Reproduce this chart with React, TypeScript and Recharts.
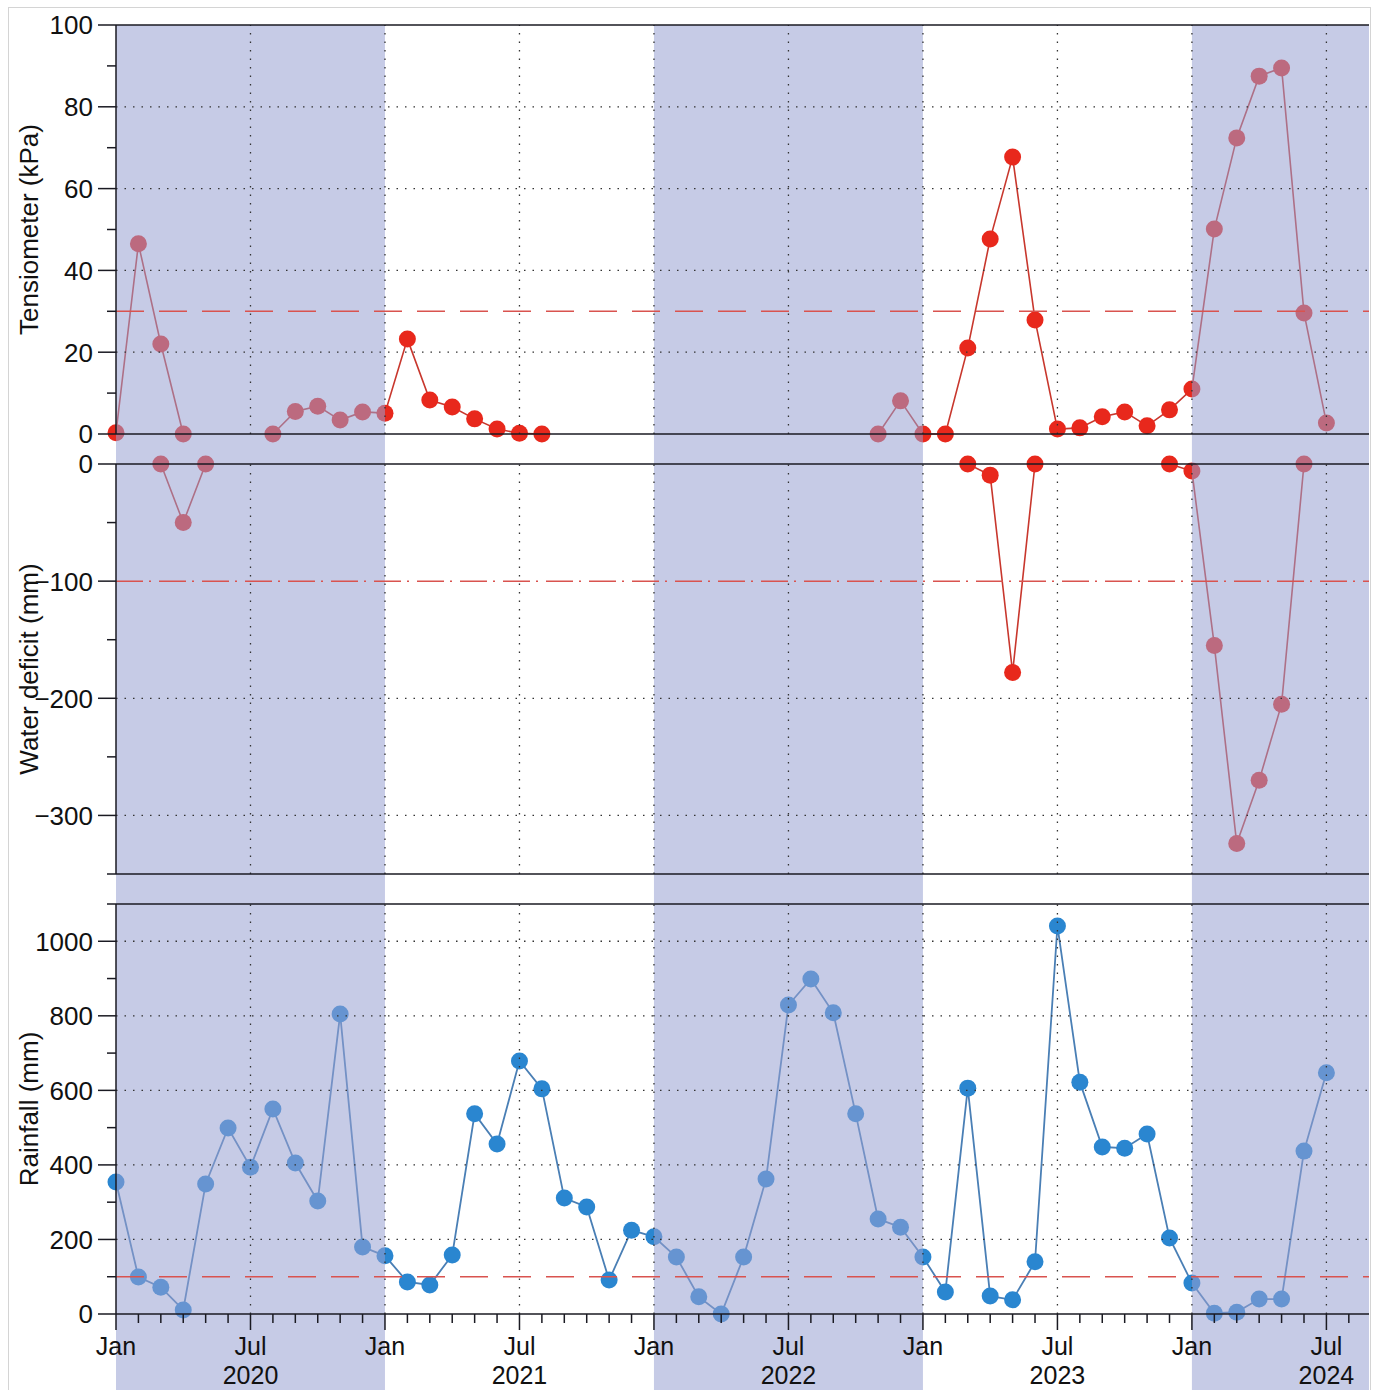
import React from 'react';
import { LineChart, Line, XAxis, YAxis, ReferenceLine, ReferenceArea } from 'recharts';

// month index: 0 = Jan 2020 ... 54 = Jul 2024
const MONTHS = Array.from({ length: 55 }, (_, i) => i);

const TENSIOMETER = [
  0.3, 46.5, 22, 0, null, null, null, 0, 5.5, 6.8, 3.4, 5.4,
  5.1, 23.2, 8.3, 6.6, 3.7, 1.2, 0.2, 0, null, null, null, null,
  null, null, null, null, null, null, null, null, null, null, 0, 8.1,
  0, 0, 21, 47.7, 67.7, 27.9, 1.2, 1.5, 4.2, 5.4, 2, 5.9,
  11, 50.1, 72.4, 87.5, 89.5, 29.6, 2.7,
];

const WATER_DEFICIT = [
  null, null, 0, -50, 0, null, null, null, null, null, null, null,
  null, null, null, null, null, null, null, null, null, null, null, null,
  null, null, null, null, null, null, null, null, null, null, null, null,
  null, null, 0, -9.5, -178, 0, null, null, null, null, null, 0,
  -6, -155, -324, -270, -205, 0, null,
];

const RAINFALL = [
  354, 99, 72, 11, 349, 499, 394, 550, 405, 303, 805, 180,
  156, 86, 78, 158, 537, 456, 679, 604, 311, 287, 91, 225,
  207, 153, 46, 0, 153, 362, 829, 899, 808, 537, 255, 233,
  153, 59, 606, 48, 38, 140, 1041, 622, 448, 445, 483, 204,
  83, 2, 5, 40, 40, 437, 647,
];

const X_END = 55.9;
const X_TICKS = Array.from({ length: 56 }, (_, i) => i);
const X_GRID = [6, 12, 18, 24, 30, 36, 42, 48, 54];
const MONTH_NAMES: Record<number, string> = { 0: 'Jan', 6: 'Jul' };
const SHADED_YEARS = [
  [0, 12],
  [24, 36],
  [48, X_END],
];

const TENSIO_TICKS = [0, 10, 20, 30, 40, 50, 60, 70, 80, 90, 100];
const TENSIO_LABELS = [0, 20, 40, 60, 80, 100];
const TENSIO_GRID = [20, 40, 60, 80];

const DEFICIT_TICKS = [0, -50, -100, -150, -200, -250, -300, -350];
const DEFICIT_LABELS = [0, -100, -200, -300];
const DEFICIT_GRID = [-200, -300];

const RAIN_TICKS = [0, 100, 200, 300, 400, 500, 600, 700, 800, 900, 1000, 1100];
const RAIN_LABELS = [0, 200, 400, 600, 800, 1000];
const RAIN_GRID = [200, 400, 600, 800, 1000];

const FONT = '"Liberation Sans", Arial, sans-serif';
const FONT_SIZE = 26;
const X_FONT_SIZE = 25;
const TEXT = '#111';
const AXIS = '#1a1a22';
const RED = '#e8281c';
const RED_LINE = '#c8372d';
const BLUE = '#2a86d0';
const BLUE_LINE = '#4a7fb5';
const THRESHOLD = '#d9534f';
const SHADE = '#97a0d1';
const GRID = '#333';

// layering: series < shading < grid/thresholds < frame/axes
const Z_SHADE = 700;
const Z_GRID = 720;
const Z_THRESH = 730;
const Z_AXIS = 800;

const TICK_SIZE = 18;
const TICK_MARGIN = 5;
const WIDTH = 1375;

const data = MONTHS.map((m, i) => ({
  m,
  tensio: TENSIOMETER[i],
  deficit: WATER_DEFICIT[i],
  rain: RAINFALL[i],
}));

const fmt = (v: number) => (v < 0 ? `\u2212${Math.abs(v)}` : `${v}`);

function makeYTick(labels: number[]) {
  return function YTick(props: any) {
    const { x, y, payload } = props;
    const v = payload.value as number;
    const major = labels.includes(v);
    const axisX = x + TICK_MARGIN + TICK_SIZE;
    const len = major ? TICK_SIZE : 9;
    return (
      <g>
        <line x1={axisX - len} x2={axisX} y1={y} y2={y} stroke={AXIS} strokeWidth={1.5} />
        {major && (
          <text x={x} y={y} dy="0.36em" textAnchor="end" fontSize={FONT_SIZE} fontFamily={FONT} fill={TEXT}>
            {fmt(v)}
          </text>
        )}
      </g>
    );
  };
}

function XTick(props: any) {
  const { x, y, payload } = props;
  const m = payload.value as number;
  const mon = m % 12;
  const name = MONTH_NAMES[mon];
  const len = name ? 16 : 9;
  return (
    <g>
      <line x1={x} x2={x} y1={y} y2={y + len} stroke={AXIS} strokeWidth={1.5} />
      {name && (
        <text x={x} y={y + 41} textAnchor="middle" fontSize={X_FONT_SIZE} fontFamily={FONT} fill={TEXT}>
          {name}
        </text>
      )}
      {mon === 6 && (
        <text x={x} y={y + 70} textAnchor="middle" fontSize={X_FONT_SIZE} fontFamily={FONT} fill={TEXT}>
          {2020 + Math.floor(m / 12)}
        </text>
      )}
    </g>
  );
}

const titleStyle = (value: string) => ({
  value,
  angle: -90,
  position: 'insideLeft' as const,
  offset: 29,
  style: { textAnchor: 'middle', fontSize: FONT_SIZE, fontFamily: FONT, fill: TEXT },
});

function Grid({ rows }: { rows: number[] }) {
  return (
    <>
      {rows.map((v) => (
        <ReferenceLine key={`h${v}`} y={v} stroke={GRID} strokeWidth={1.3} strokeDasharray="1.5 7" zIndex={Z_GRID} />
      ))}
      {X_GRID.map((v) => (
        <ReferenceLine key={`v${v}`} x={v} stroke={GRID} strokeWidth={1.3} strokeDasharray="1.5 7" zIndex={Z_GRID} />
      ))}
    </>
  );
}

function Shade({ lo, hi }: { lo: number; hi: number }) {
  return (
    <>
      {SHADED_YEARS.map(([a, b]) => (
        <ReferenceArea
          key={a}
          x1={a}
          x2={b}
          y1={lo}
          y2={hi}
          fill={SHADE}
          fillOpacity={0.55}
          stroke="none"
          ifOverflow="visible"
          zIndex={Z_SHADE}
        />
      ))}
    </>
  );
}

const yAxisCommon = {
  type: 'number' as const,
  interval: 0 as const,
  width: 116,
  tickSize: TICK_SIZE,
  tickMargin: TICK_MARGIN,
  tickLine: false,
  axisLine: { stroke: AXIS, strokeWidth: 1.5 },
  zIndex: Z_AXIS,
};

export default function App() {
  return (
    <div style={{ position: 'relative', width: WIDTH, height: 1390, background: '#fff' }}>
      <style>{'body{margin:0;}'}</style>
      <div
        style={{
          position: 'absolute',
          left: 8,
          top: 7,
          width: 1361,
          height: 1400,
          border: '1px solid #d4d4d4',
          pointerEvents: 'none',
        }}
      />

      {/* Tensiometer */}
      <LineChart width={WIDTH} height={449} data={data} margin={{ top: 25, right: 6, bottom: 15, left: 0 }}>
        <Line
          type="linear"
          dataKey="tensio"
          stroke={RED_LINE}
          strokeWidth={1.6}
          dot={{ r: 8.5, fill: RED, stroke: RED, strokeWidth: 0 }}
          activeDot={false}
          isAnimationActive={false}
        />
        {Shade({ lo: -4, hi: 100 })}
        {Grid({ rows: TENSIO_GRID })}
        <ReferenceLine y={30} stroke={THRESHOLD} strokeWidth={1.5} strokeDasharray="28 15" zIndex={Z_THRESH} />
        <ReferenceLine y={100} stroke={AXIS} strokeWidth={1.5} zIndex={Z_AXIS} />
        <ReferenceLine y={0} stroke={AXIS} strokeWidth={1.5} zIndex={Z_AXIS} />
        <XAxis type="number" dataKey="m" domain={[0, X_END]} hide />
        <YAxis
          {...yAxisCommon}
          domain={[0, 100]}
          ticks={TENSIO_TICKS}
          tick={makeYTick(TENSIO_LABELS)}
          label={titleStyle('Tensiometer (kPa)')}
        />
      </LineChart>

      {/* Water deficit */}
      <LineChart width={WIDTH} height={440} data={data} margin={{ top: 15, right: 6, bottom: 15, left: 0 }}>
        <Line
          type="linear"
          dataKey="deficit"
          stroke={RED_LINE}
          strokeWidth={1.6}
          dot={{ r: 8.5, fill: RED, stroke: RED, strokeWidth: 0 }}
          activeDot={false}
          isAnimationActive={false}
        />
        {Shade({ lo: -364, hi: 14 })}
        {Grid({ rows: DEFICIT_GRID })}
        <ReferenceLine y={-100} stroke={THRESHOLD} strokeWidth={1.5} strokeDasharray="27 6 2 8" zIndex={Z_THRESH} />
        <ReferenceLine y={0} stroke={AXIS} strokeWidth={1.5} zIndex={Z_AXIS} />
        <ReferenceLine y={-350} stroke={AXIS} strokeWidth={1.5} zIndex={Z_AXIS} />
        <XAxis type="number" dataKey="m" domain={[0, X_END]} hide />
        <YAxis
          {...yAxisCommon}
          domain={[-350, 0]}
          ticks={DEFICIT_TICKS}
          tick={makeYTick(DEFICIT_LABELS)}
          label={titleStyle('Water deficit (mm)')}
        />
      </LineChart>

      {/* Rainfall */}
      <LineChart width={WIDTH} height={501} data={data} margin={{ top: 15, right: 6, bottom: 0, left: 0 }}>
        <Line
          type="linear"
          dataKey="rain"
          stroke={BLUE_LINE}
          strokeWidth={1.8}
          dot={{ r: 8.5, fill: BLUE, stroke: BLUE, strokeWidth: 0 }}
          activeDot={false}
          isAnimationActive={false}
        />
        {Shade({ lo: -215, hi: 1145 })}
        {Grid({ rows: RAIN_GRID })}
        <ReferenceLine y={100} stroke={THRESHOLD} strokeWidth={1.5} strokeDasharray="28 15" zIndex={Z_THRESH} />
        <ReferenceLine y={1100} stroke={AXIS} strokeWidth={1.5} zIndex={Z_AXIS} />
        <XAxis
          type="number"
          dataKey="m"
          domain={[0, X_END]}
          ticks={X_TICKS}
          interval={0}
          height={76}
          tickSize={0}
          tickMargin={0}
          tickLine={false}
          axisLine={{ stroke: AXIS, strokeWidth: 1.5 }}
          tick={XTick}
          zIndex={Z_AXIS}
        />
        <YAxis
          {...yAxisCommon}
          domain={[0, 1100]}
          ticks={RAIN_TICKS}
          tick={makeYTick(RAIN_LABELS)}
          label={titleStyle('Rainfall (mm)')}
        />
      </LineChart>
    </div>
  );
}
